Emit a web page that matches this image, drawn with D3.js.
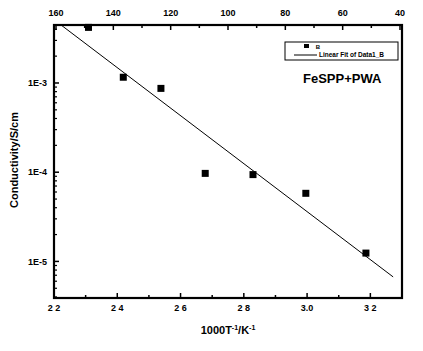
<!DOCTYPE html>
<html>
<head>
<meta charset="utf-8">
<script src="https://cdn.jsdelivr.net/npm/d3@7"></script>
<style>
  body { margin: 0; background: #fff; }
  text { font-family: "Liberation Sans", Arial, sans-serif; font-weight: bold; fill: #000; }
</style>
</head>
<body>
<div id="chart"></div>
<script>
// Data
var invT = [2.309, 2.419, 2.538, 2.678, 2.829, 2.996, 3.186];
var conductivity = [4.2e-3, 1.16e-3, 8.7e-4, 9.7e-5, 9.4e-5, 5.8e-5, 1.24e-5];
// Linear fit: log10(sigma) = fitIntercept + fitSlope * x
var fitSlope = -2.69, fitIntercept = 3.628;
var fitRange = [2.222, 3.272];
var bottomTicks = [2.2, 2.4, 2.6, 2.8, 3.0, 3.2];
var bottomLabels = ["2 2", "2 4", "2 6", "2 8", "3.0", "3 2"];
var topTicks = [160, 140, 120, 100, 80, 60, 40];
var yTicks = [1e-3, 1e-4, 1e-5];
var yLabels = ["1E-3", "1E-4", "1E-5"];

var W = 423, H = 351;
var margin = {top: 25, right: 21, bottom: 53, left: 54};
var width = W - margin.left - margin.right,
    height = H - margin.top - margin.bottom;

var svg = d3.select("#chart").append("svg")
    .attr("width", W).attr("height", H);
var g = svg.append("g")
    .attr("transform", "translate(" + margin.left + "," + margin.top + ")");

var x = d3.scaleLinear().domain([2.2, 3.3]).range([0, width]);
var xTop = d3.scaleLinear().domain([160, 40]).range([2, width - 2]);
var y = d3.scaleLog().domain([Math.pow(10, -5.41), Math.pow(10, -2.35)]).range([height, 0]);

// Bottom axis: major and minor ticks inward
var xMinor = d3.range(2.3, 3.3, 0.2);
g.selectAll(".bmaj").data(bottomTicks).enter().append("line")
  .attr("x1", d => x(d)).attr("x2", d => x(d))
  .attr("y1", height).attr("y2", height - 5)
  .attr("stroke", "#000").attr("stroke-width", 1.5);
g.selectAll(".bmin").data(xMinor).enter().append("line")
  .attr("x1", d => x(d)).attr("x2", d => x(d))
  .attr("y1", height).attr("y2", height - 3)
  .attr("stroke", "#000").attr("stroke-width", 1.5);
g.selectAll(".blab").data(bottomTicks).enter().append("text")
  .attr("x", d => x(d)).attr("y", height + 13)
  .attr("text-anchor", "middle").style("font-size", "9px")
  .text((d, i) => bottomLabels[i]);

// Top axis
var topMinor = d3.range(150, 40, -20);
g.selectAll(".tmaj").data(topTicks).enter().append("line")
  .attr("x1", d => xTop(d)).attr("x2", d => xTop(d))
  .attr("y1", 0).attr("y2", 5)
  .attr("stroke", "#000").attr("stroke-width", 1.5);
g.selectAll(".tmin").data(topMinor).enter().append("line")
  .attr("x1", d => xTop(d)).attr("x2", d => xTop(d))
  .attr("y1", 0).attr("y2", 3)
  .attr("stroke", "#000").attr("stroke-width", 1.5);
g.selectAll(".tlab").data(topTicks).enter().append("text")
  .attr("x", d => xTop(d)).attr("y", -9)
  .attr("text-anchor", "middle").style("font-size", "9px")
  .text(d => d);

// Left axis (log)
var yMinor = [];
[-6, -5, -4, -3].forEach(function(e) {
  for (var k = 2; k <= 9; k++) {
    var v = k * Math.pow(10, e);
    if (v >= y.domain()[0] && v <= y.domain()[1]) yMinor.push(v);
  }
});
g.selectAll(".lmaj").data(yTicks).enter().append("line")
  .attr("x1", 0).attr("x2", 5)
  .attr("y1", d => y(d)).attr("y2", d => y(d))
  .attr("stroke", "#000").attr("stroke-width", 1.5);
g.selectAll(".lmin").data(yMinor).enter().append("line")
  .attr("x1", 0).attr("x2", 3)
  .attr("y1", d => y(d)).attr("y2", d => y(d))
  .attr("stroke", "#000").attr("stroke-width", 1.2);
g.selectAll(".llab").data(yTicks).enter().append("text")
  .attr("x", -7).attr("y", d => y(d)).attr("dy", "0.35em")
  .attr("text-anchor", "end").style("font-size", "9px")
  .text((d, i) => yLabels[i]);

// Frame
g.append("rect")
  .attr("x", 0).attr("y", 0).attr("width", width).attr("height", height)
  .attr("fill", "none").attr("stroke", "#000").attr("stroke-width", 2.2);

// Fit line
var fitData = fitRange.map(v => [v, Math.pow(10, fitIntercept + fitSlope * v)]);
g.append("path")
  .datum(fitData)
  .attr("d", d3.line().x(d => x(d[0])).y(d => y(d[1])))
  .attr("stroke", "#000").attr("stroke-width", 1).attr("fill", "none");

// Data points
g.selectAll(".pt").data(invT).enter().append("rect")
  .attr("x", d => x(d) - 3.5)
  .attr("y", (d, i) => y(conductivity[i]) - 3.5)
  .attr("width", 7).attr("height", 7)
  .attr("fill", "#000");

// Legend
var lg = g.append("g").attr("transform", "translate(" + (285 - margin.left) + "," + (42 - margin.top) + ")");
lg.append("rect").attr("x", 0).attr("y", 0).attr("width", 113).attr("height", 18)
  .attr("fill", "#fff").attr("stroke", "#000").attr("stroke-width", 1);
lg.append("rect").attr("x", 19).attr("y", 2).attr("width", 5).attr("height", 4).attr("fill", "#000");
lg.append("text").attr("x", 33).attr("y", 6.5).attr("text-anchor", "middle")
  .style("font-size", "6px").text("B");
lg.append("line").attr("x1", 9).attr("x2", 32).attr("y1", 13).attr("y2", 13)
  .attr("stroke", "#000").attr("stroke-width", 1);
lg.append("text").attr("x", 34).attr("y", 15).style("font-size", "6.5px")
  .text("Linear Fit of Data1_B");

// Annotation
g.append("text").attr("x", 303 - margin.left).attr("y", 83 - margin.top)
  .style("font-size", "13px").text("FeSPP+PWA");

// Axis titles
svg.append("text")
  .attr("x", margin.left + x(2.75)).attr("y", 334)
  .attr("text-anchor", "middle").style("font-size", "11px")
  .html("1000T<tspan dy='-4' font-size='7px'>-1</tspan><tspan dy='4'>/K</tspan><tspan dy='-4' font-size='7px'>-1</tspan>");

svg.append("text")
  .attr("transform", "translate(18," + 160 + ") rotate(-90)")
  .attr("text-anchor", "middle").style("font-size", "11px")
  .text("Conductivity/S/cm");
</script>
</body>
</html>
